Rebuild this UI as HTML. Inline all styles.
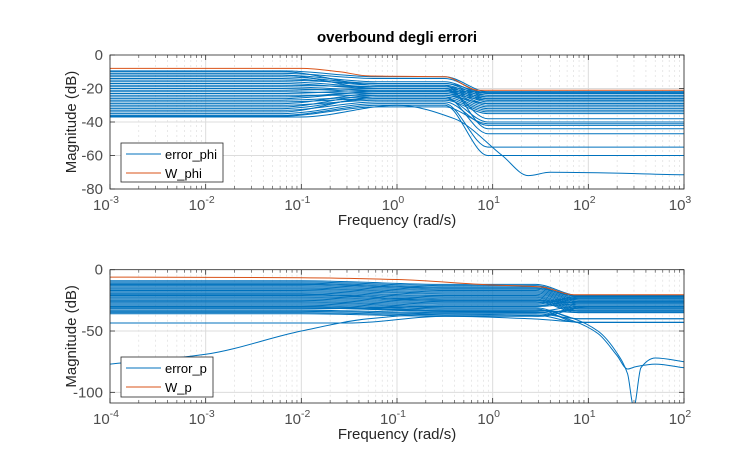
<!DOCTYPE html>
<html><head><meta charset="utf-8"><style>
body{margin:0;background:#fff;}
svg{display:block;font-family:"Liberation Sans",Arial,sans-serif;}
</style></head><body>
<svg id="fig" width="756" height="454" viewBox="0 0 756 454"></svg>
<script>
// ---------- DATA (top: error_phi / W_phi) ----------
const topXTicks = [-3,-2,-1,0,1,2,3];
const topYTicks = [0,-20,-40,-60,-80];
const topLows  = [-9.5,-11,-12,-13,-14,-15,-16,-17,-18,-19,-20,-21,-22,-23,-24,-25,-27,-28,-29,-30,-31,-32,-33,-34,-35,-36,-36.5,-10,-12,-26];
const topMids  = [-13,-14,-16,-17,-18,-17,-19,-20,-19,-21,-22,-20,-23,-21,-24,-22,-25,-26,-23,-27,-24,-26,-28,-25,-29,-30,-31,-18,-20,-22];
const topHighs = [-22,-23,-24,-25,-26,-22.5,-27,-28,-23,-29,-30,-24,-31,-25,-32,-26,-33,-34,-27,-35,-29,-40,-42,-47,-55,-60,-41,-44,-38,-22];
const topSpecial = [[[-3,-37],[-1,-37],[0,-30],[0.6,-38],[1.1,-60],[1.37,-72],[1.6,-70],[3,-71.5]]];
const topW = [[-3,-8],[-1,-8],[-0.6,-10],[-0.3,-12.5],[0.5,-13],[0.85,-21],[3,-21]];
// ---------- DATA (bottom: error_p / W_p) ----------
const botXTicks = [-4,-3,-2,-1,0,1,2];
const botYTicks = [0,-50,-100];
const botLows  = [-9,-10,-11,-12,-13,-14,-15,-16,-17,-18,-19,-20,-21,-22,-23,-24,-25,-26,-27,-28,-29,-30,-31,-32,-33,-34,-35,-36,-12,-20];
const botMids  = [-12,-13,-14,-15,-16,-17,-18,-19,-20,-21,-22,-23,-24,-25,-26,-27,-28,-29,-30,-31,-32,-33,-34,-30,-35,-36,-37,-38,-15,-25];
const botHighs = [-21,-22,-23,-24,-25,-26,-27,-28,-29,-30,-31,-32,-33,-34,-35,-22,-23,-26,-28,-40,-43,-35,-30,-24,-33,-40,-43,-31,-21.5,-27];
const botSpecial = [
  [[-4,-77],[-3,-69],[-2,-50],[-1.3,-40],[-0.5,-36],[0.2,-37],[0.5,-38],[1,-30],[2,-30]],
  [[-4,-43.5],[-1.5,-43.5],[-0.5,-38],[0.4,-40],[1,-43],[2,-43]],
  [[-4,-30],[-2,-30],[-0.5,-33],[0.5,-33],[0.85,-40],[1.1,-50],[1.3,-68],[1.41,-85],[1.475,-112],[1.55,-80],[1.7,-72],[2,-75]],
  [[-4,-31],[-2,-31],[-0.5,-34],[0.5,-35],[0.85,-42],[1.1,-52],[1.3,-70],[1.41,-81],[1.5,-79],[1.7,-77],[2,-80]]
];
const botW = [[-4,-6],[-2,-6.5],[-1,-8],[0,-12.5],[0.5,-14],[0.85,-20.5],[2,-20.5]];

const NS="http://www.w3.org/2000/svg";
const svg=document.getElementById('fig');
function mk(tag,attrs,parent){const e=document.createElementNS(NS,tag);for(const k in attrs)e.setAttribute(k,attrs[k]);(parent||svg).appendChild(e);return e;}

// monotone cubic (Fritsch-Carlson) path through pixel points
function smoothPath(p){
  const n=p.length,dx=[],m=[],t=[];
  for(let i=0;i<n-1;i++){dx[i]=p[i+1][0]-p[i][0];m[i]=(p[i+1][1]-p[i][1])/dx[i];}
  t[0]=m[0];t[n-1]=m[n-2];
  for(let i=1;i<n-1;i++){
    if(m[i-1]*m[i]<=0)t[i]=0;
    else{const w1=2*dx[i]+dx[i-1],w2=dx[i]+2*dx[i-1];t[i]=(w1+w2)/(w1/m[i-1]+w2/m[i]);}
  }
  let d='M'+p[0][0].toFixed(1)+','+p[0][1].toFixed(1);
  for(let i=0;i<n-1;i++){
    const h=dx[i]/3;
    d+='C'+(p[i][0]+h).toFixed(1)+','+(p[i][1]+t[i]*h).toFixed(1)+' '+(p[i+1][0]-h).toFixed(1)+','+(p[i+1][1]-t[i+1]*h).toFixed(1)+' '+p[i+1][0].toFixed(1)+','+p[i+1][1].toFixed(1);
  }
  return d;
}

function panel(o){
  const {x0,x1,y0,y1,lx0,lx1,ymin,ymax,xTicks,yTicks,lows,mids,highs,special,W,id,legendText,legendBox,lowEnd,midAt,midEnd,highStart}=o;
  const sx=v=>x0+(v-lx0)/(lx1-lx0)*(x1-x0);
  const sy=v=>y0+(ymax-v)/(ymax-ymin)*(y1-y0);
  const g=mk('g',{});
  
  
  for(let d=lx0;d<lx1;d++)for(let m=2;m<=9;m++){
    const x=sx(d+Math.log10(m));
    const l=mk('line',{x1:x,x2:x,y1:y0,y2:y1,stroke:'#d9d9d9','stroke-width':0.6,'stroke-dasharray':'2,3'},g);
    
    mk('line',{x1:x,x2:x,y1:y1,y2:y1-3,stroke:'#333','stroke-width':0.6},g);
    mk('line',{x1:x,x2:x,y1:y0,y2:y0+3,stroke:'#333','stroke-width':0.6},g);
  }
  xTicks.forEach(t=>{const x=sx(t);const l=mk('line',{x1:x,x2:x,y1:y0,y2:y1,stroke:'#dcdcdc','stroke-width':1},g);
    
    mk('line',{x1:x,x2:x,y1:y1,y2:y1-5,stroke:'#333','stroke-width':0.8},g);
    mk('line',{x1:x,x2:x,y1:y0,y2:y0+5,stroke:'#333','stroke-width':0.8},g);
    const tx=mk('text',{x:x-4,y:y1+21,'text-anchor':'middle','font-size':15,fill:'#4d4d4d'},g);
    
    tx.appendChild(document.createTextNode('10'));
    const sp=mk('tspan',{dy:-7,'font-size':10.5},tx);sp.textContent=String(t);
  });
  yTicks.forEach(t=>{const y=sy(t);
    if(t!==ymax){const l=mk('line',{x1:x0,x2:x1,y1:y,y2:y,stroke:'#dcdcdc','stroke-width':1},g);
    }
    mk('line',{x1:x0,x2:x0+5,y1:y,y2:y,stroke:'#333','stroke-width':0.8},g);
    mk('line',{x1:x1,x2:x1-5,y1:y,y2:y,stroke:'#333','stroke-width':0.8},g);
    const tx=mk('text',{x:x0-7,y:y+5,'text-anchor':'end','font-size':15,fill:'#4d4d4d'},g);
    
    tx.textContent=String(t);
  });
  const cp=mk('clipPath',{id:id+'clip'},g);mk('rect',{x:x0,y:y0,width:x1-x0,height:y1-y0},cp);
  const lg=mk('g',{'clip-path':'url(#'+id+'clip)'},g);
  const drawCurve=(pts,color,name)=>{
    const p=mk('path',{d:smoothPath(pts.map(q=>[sx(q[0]),sy(q[1])])),fill:'none',stroke:color,'stroke-width':1},lg);
    
  };
  lows.forEach((L,i)=>{
    drawCurve([[lx0,L],[lowEnd,L],[midAt,mids[i]],[midEnd,mids[i]],[highStart,highs[i]],[lx1,highs[i]]],'#0072BD','error-curve');
  });
  special.forEach(s=>drawCurve(s,'#0072BD','error-curve'));
  drawCurve(W,'#D95319','weight-curve');
  const box=mk('rect',{x:x0,y:y0,width:x1-x0,height:y1-y0,fill:'none',stroke:'#262626','stroke-width':0.8},g);
  
  const xl=mk('text',{x:(x0+x1)/2,y:y1+36,'text-anchor':'middle','font-size':15,fill:'#262626'},g);
  
  xl.setAttribute('xml:space','preserve');xl.textContent='Frequency  (rad/s)';
  const yl=mk('text',{x:0,y:0,'text-anchor':'middle','font-size':15,fill:'#262626',transform:'translate(76,'+((y0+y1)/2)+') rotate(-90)'},g);
  
  yl.textContent='Magnitude (dB)';
  const [bx,by,bw,bh]=legendBox;
  const leg=mk('g',{},g);
  mk('rect',{x:bx,y:by,width:bw,height:bh,fill:'#fff',stroke:'#262626','stroke-width':0.8},leg);
  legendText.forEach((t,i)=>{
    const yy=by+11+i*19;
    const e=mk('g',{},leg);
    mk('line',{x1:bx+5,x2:bx+40,y1:yy,y2:yy,stroke:i?'#D95319':'#0072BD','stroke-width':1},e);
    const tt=mk('text',{x:bx+44,y:yy+5,'font-size':13,fill:'#000'},e);tt.textContent=t;
  });
}

const title=mk('text',{x:397,y:42,'text-anchor':'middle','font-size':15,'font-weight':'bold',fill:'#000'});


title.textContent='overbound degli errori';

panel({id:'top',x0:110,x1:684,y0:55,y1:189,lx0:-3,lx1:3,ymin:-80,ymax:0,xTicks:topXTicks,yTicks:topYTicks,
  lows:topLows,mids:topMids,highs:topHighs,special:topSpecial,W:topW,lowEnd:-1.2,midAt:-0.2,midEnd:0.5,highStart:0.95,
  legendText:['error_phi','W_phi'],legendBox:[121,143,102,39]});
panel({id:'bot',x0:110,x1:684,y0:269.7,y1:403,lx0:-4,lx1:2,ymin:-108.7,ymax:0,xTicks:botXTicks,yTicks:botYTicks,
  lows:botLows,mids:botMids,highs:botHighs,special:botSpecial,W:botW,lowEnd:-2,midAt:-0.5,midEnd:0.45,highStart:0.9,
  legendText:['error_p','W_p'],legendBox:[121,357,92,40]});
</script>
</body></html>
